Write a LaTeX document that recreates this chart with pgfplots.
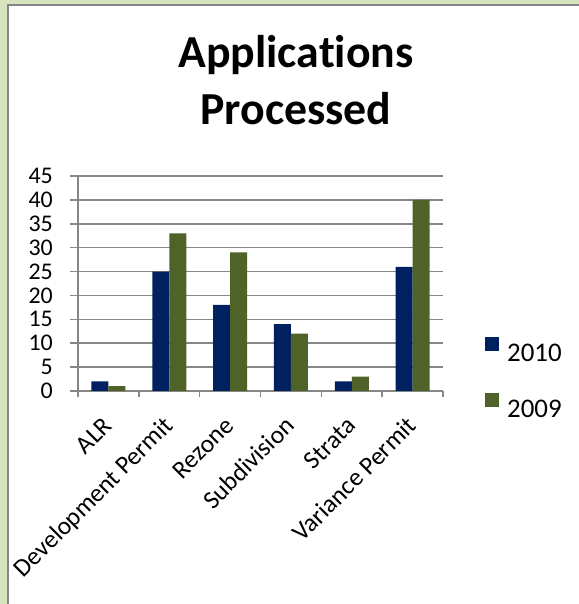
\documentclass[border=0pt]{standalone}
\usepackage{fontspec}
\setmainfont{Carlito}[Ligatures={NoCommon}]
\usepackage{pgfplots}
\pgfplotsset{compat=1.18}
\definecolor{bgGreen}{RGB}{216,228,189}
\definecolor{frameGray}{RGB}{134,134,134}
\definecolor{gridGray}{RGB}{134,134,134}
\definecolor{cTen}{RGB}{0,32,96}
\definecolor{cNine}{RGB}{79,98,40}
\begin{document}
\begin{tikzpicture}[x=1bp,y=1bp]
\fill[bgGreen] (0,0) rectangle (579,604);
\fill[white] (8,0) rectangle (579,599);
\draw[frameGray, line width=2bp] (8,0) -- (8,599) -- (579,599);
\node[font=\fontsize{46}{57}\selectfont\bfseries, anchor=base, inner sep=0pt] at (296,536) {Applications};
\node[font=\fontsize{46}{57}\selectfont\bfseries, anchor=base, inner sep=0pt] at (296,479) {Processed};
\begin{axis}[
  at={(78bp,213bp)}, anchor=south west,
  scale only axis, width=365bp, height=215bp,
  xmin=-0.5, xmax=5.5, ymin=0, ymax=45,
  ybar=0pt, bar width=17bp,
  axis x line*=bottom, axis y line*=left,
  axis line style={gridGray, line width=1.5bp},
  ymajorgrids, grid style={gridGray, line width=1.5bp},
  ytick={0,5,...,45},
  xtick={0,...,5},
  xticklabels={ALR,Development Permit,Rezone,Subdivision,Strata,Variance Permit},
  minor xtick={-0.5,0.5,...,5.5},
  tick align=outside,
  major tick length=8bp, minor tick length=6bp,
  tick style={gridGray, line width=1.5bp},
  every major x tick/.append style={draw=none},
  /pgf/number format/assume math mode=true,
  ticklabel style={font=\fontsize{24}{28}\selectfont},
  yticklabel style={anchor=east, inner sep=0pt, xshift=-17bp},
  xticklabel style={font=\fontsize{25.5}{30}\selectfont,
    yshift=-24bp, xshift=1bp, rotate=45, anchor=east, inner sep=0pt,
    text height=17bp, text depth=5bp},
  legend style={at={(rel axis cs:1.115,0.063)}, anchor=west, draw=none, fill=none,
    inner sep=0pt, row sep=31bp, column sep=8bp,
    font=\fontsize{27}{32}\selectfont,
    cells={anchor=west},
    nodes={inner sep=0pt, text height=18bp, text depth=0bp}},
]
\addplot[fill=cTen, draw=none,
  legend image code/.code={\fill[cTen] (0bp,2bp) rectangle (14bp,16bp);}]
  coordinates {(0,2) (1,25) (2,18) (3,14) (4,2) (5,26)};
\addlegendentry{2010}
\addplot[fill=cNine, draw=none,
  legend image code/.code={\fill[cNine] (0bp,2bp) rectangle (14bp,16bp);}]
  coordinates {(0,1) (1,33) (2,29) (3,12) (4,3) (5,40)};
\addlegendentry{2009}
\end{axis}
\pgfresetboundingbox
\path[use as bounding box] (0,0) rectangle (579,604);
\end{tikzpicture}
\end{document}
